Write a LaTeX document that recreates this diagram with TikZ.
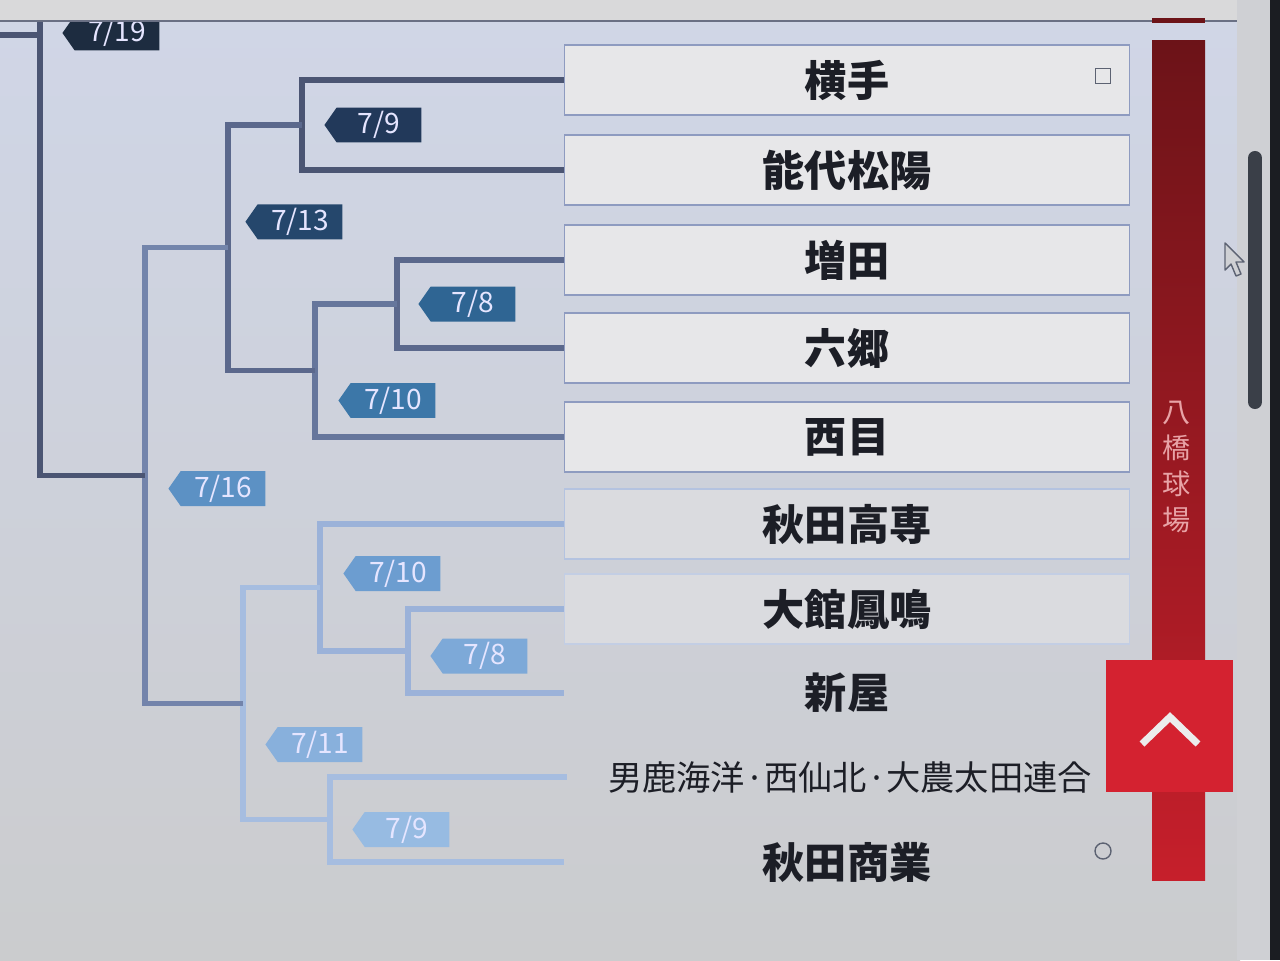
\documentclass[tikz,border=0pt]{standalone}
\usepackage{fontspec}
\newfontfamily\jp{Noto Sans CJK JP}
\usepackage{tikz}
\usetikzlibrary{positioning,shapes.symbols}

\definecolor{bgtop}{HTML}{D0D6E7}
\definecolor{bgbot}{HTML}{CBCCCE}
\definecolor{stripgray}{HTML}{D9D9DA}
\definecolor{topline}{HTML}{6A7084}
\definecolor{rightgray}{HTML}{CFD0D4}
\definecolor{bezel}{HTML}{1B1D22}
\definecolor{boxfill}{HTML}{E7E7E9}
\definecolor{boxfillB}{HTML}{DADBDF}
\definecolor{boxA}{HTML}{8E9BC0}
\definecolor{boxB}{HTML}{B4C3E0}
\definecolor{boxC}{HTML}{C3CEE4}
\definecolor{teamtxt}{HTML}{1C1E26}
\definecolor{lnA}{HTML}{4B5573}
\definecolor{lnB}{HTML}{5B688C}
\definecolor{lnC}{HTML}{66769C}
\definecolor{lnD}{HTML}{7384AB}
\definecolor{lnE}{HTML}{9BB2D9}
\definecolor{lnF}{HTML}{A6BDE0}
\definecolor{tagA}{HTML}{1D2C40}
\definecolor{tagB}{HTML}{22395A}
\definecolor{tagC}{HTML}{25476C}
\definecolor{tagD}{HTML}{2F6593}
\definecolor{tagE}{HTML}{3C77A8}
\definecolor{tagF}{HTML}{5C91C4}
\definecolor{tagG}{HTML}{6C9DD0}
\definecolor{tagH}{HTML}{7DA9D8}
\definecolor{tagI}{HTML}{88B0DC}
\definecolor{tagJ}{HTML}{97BBE2}
\definecolor{sbtop}{HTML}{6C1318}
\definecolor{sbbot}{HTML}{C61F2B}
\definecolor{btnred}{HTML}{D42230}
\definecolor{venuetxt}{HTML}{E8A3A6}
\definecolor{markgray}{HTML}{5C6272}
\definecolor{scrollbar}{HTML}{3A3F48}

\begin{document}
\begin{tikzpicture}[x=0.02cm, y=-0.02cm,
  every node/.style={font=\jp},
  team/.style 2 args={draw=#1, fill=#2, line width=0.8pt, inner sep=0pt,
    minimum width=11.3cm, minimum height=1.4cm, text=teamtxt,
    font=\jp\bfseries\fontsize{24}{24}\selectfont},
  tag/.style={signal, signal to=west, signal pointer angle=110, fill=#1,
    minimum width=1.94cm, minimum height=0.7cm, inner sep=0pt,
    text=white!90!blue, font=\jp\fontsize{16}{16}\selectfont},
  link/.style={draw=#1, line width=3pt}]
  \useasboundingbox (0,0) rectangle (1280,960);

  % screen background
  \shade[top color=bgtop, bottom color=bgbot] (0,0) rectangle (1240,960);
  \fill[rightgray] (1237,0) rectangle (1270,960);
  \fill[bezel] (1270,0) rectangle (1280,960);

  % teams
  \node[team={boxA}{boxfill}] (yokote)  at (847,80)  {横手};
  \node[team={boxA}{boxfill}] (noshiro) at (847,170) {能代松陽};
  \node[team={boxA}{boxfill}] (masuda)  at (847,260) {増田};
  \node[team={boxA}{boxfill}] (rokugo)  at (847,348) {六郷};
  \node[team={boxA}{boxfill}] (nishime) at (847,437) {西目};
  \node[team={boxB}{boxfillB}] (kosen)  at (847,524) {秋田高専};
  \node[team={boxC}{boxfillB}] (hoomei) at (847,609) {大館鳳鳴};
  \node[team={none}{none}] (araya)  at (847,693) {新屋};
  \node[team={none}{none}, font=\jp\fontsize{19.5}{19.5}\selectfont]
      (oga) at (850,777) {男鹿海洋·西仙北·大農太田連合};
  \node[team={none}{none}] (akisho) at (847,862) {秋田商業};

  \node[draw=markgray, line width=1pt, minimum size=0.3cm, inner sep=0pt]
      (sqmark) at (1103,76) {};
  \node[circle, draw=markgray, line width=0.8pt, minimum size=0.32cm, inner sep=0pt]
      (circmark) at (1103,851) {};

  % match points
  \coordinate (m9a)  at (302,125);
  \coordinate (m8a)  at (397,304);
  \coordinate (m10a) at (315,370.5);
  \coordinate (m13)  at (228,247.75);
  \coordinate (m8b)  at (408,651);
  \coordinate (m10b) at (320,587.5);
  \coordinate (m9b)  at (330,819.5);
  \coordinate (m11)  at (243,703.5);
  \coordinate (m16)  at (145,475.6);
  \coordinate (m19)  at (40,475.6);
  \coordinate (top19)  at (40,22);
  \coordinate (edge19) at (0,35);

  % bracket
  \draw[link=lnA] (yokote.west) -| (m9a) |- (noshiro.west);
  \draw[link=lnB] (masuda.west) -| (m8a) |- (rokugo.west);
  \draw[link=lnC] (m8a) -| (m10a) |- (nishime.west);
  \draw[link=lnB] (m9a) -| (m13) |- (m10a);
  \draw[link=lnE] (hoomei.west) -| (m8b) |- (araya.west);
  \draw[link=lnE] (kosen.west) -| (m10b) |- (m8b);
  \draw[link=lnF] (oga.west) -| (m9b) |- (akisho.west);
  \draw[link=lnF] (m10b) -| (m11) |- (m9b);
  \draw[link=lnD] (m13) -| (m16) |- (m11);
  \draw[link=lnA] (edge19) -| (top19) -- (m19) -- (m16);

  % dates
  \node[tag=tagB, right=0.44cm of m9a] (d9a) {7/9};
  \node[tag=tagC, right=0.34cm of m13, yshift=0.52cm] (d13) {7/13};
  \node[tag=tagD, right=0.42cm of m8a] (d8a) {7/8};
  \node[tag=tagE, right=0.46cm of m10a, yshift=-0.6cm] (d10a) {7/10};
  \node[tag=tagF, right=0.46cm of m16, yshift=-0.26cm] (d16) {7/16};
  \node[tag=tagG, right=0.46cm of m10b, yshift=0.28cm] (d10b) {7/10};
  \node[tag=tagH, right=0.44cm of m8b, yshift=-0.1cm] (d8b) {7/8};
  \node[tag=tagI, right=0.44cm of m11, yshift=-0.82cm] (d11) {7/11};
  \node[tag=tagJ, right=0.44cm of m9b, yshift=-0.2cm] (d9b) {7/9};
  \node[tag=tagA, right=0.44cm of top19, yshift=-0.22cm] (d19) {7/19};

  % top edge of the page
  \fill[stripgray] (0,0) rectangle (1237,20);
  \draw[topline, line width=1.5pt] (0,21) -- (1237,21);
  \fill[sbtop] (1152,18) rectangle (1205,23);

  % venue bar and button
  \shade[top color=sbtop, bottom color=sbbot] (1152,40) rectangle (1205,880);
  \node[text=venuetxt, align=center, font=\jp\fontsize{16}{20.5}\selectfont]
      (venue) at (1177,467) {八\\橋\\球\\場};
  \fill[btnred] (1106,660) rectangle (1233,792);
  \draw[white!85!gray, line width=4pt] (1142,744) -- (1170,717) -- (1198,744);

  % scroll bar and pointer
  \draw[scrollbar, line width=8pt, line cap=round] (1255,158) -- (1255,402);
  \filldraw[fill=rightgray, draw=markgray, line width=0.8pt, line join=round]
    (1225,243) -- (1225,270) -- (1231,264) -- (1236,276) -- (1241,274)
    -- (1236,262) -- (1244,262) -- cycle;
\end{tikzpicture}
\end{document}
